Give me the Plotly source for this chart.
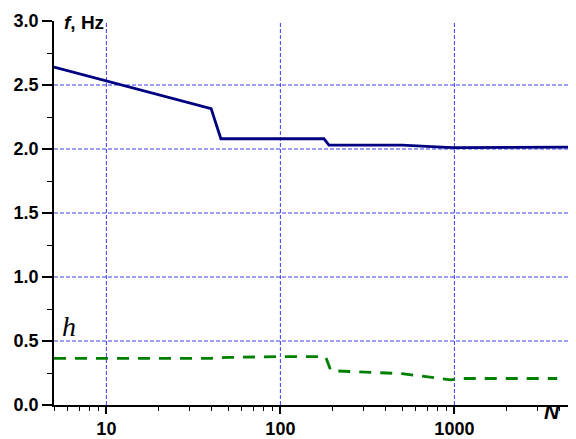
import plotly.graph_objects as go

# f, Hz (solid navy line)
f_N = [5, 40, 45.5, 178, 190, 500, 900, 1000, 4600]
f_val = [2.64, 2.315, 2.08, 2.08, 2.03, 2.03, 2.012, 2.01, 2.015]

# h (dashed green line)
h_N = [5, 40, 50, 100, 182, 195, 500, 950, 1100, 3900]
h_val = [0.365, 0.365, 0.372, 0.378, 0.377, 0.268, 0.245, 0.197, 0.207, 0.207]

y_ticks = [0.0, 0.5, 1.0, 1.5, 2.0, 2.5, 3.0]
y_tick_text = ["0.0", "0.5", "1.0", "1.5", "2.0", "2.5", "3.0"]
x_ticks = [10, 100, 1000]
x_tick_text = ["10", "100", "1000"]
grid_y = [0.5, 1.0, 1.5, 2.0, 2.5]
grid_x = [10, 100, 1000]

fig = go.Figure()
fig.add_trace(go.Scatter(x=f_N, y=f_val, mode="lines",
                         line=dict(color="#000080", width=2.8), showlegend=False))
fig.add_trace(go.Scatter(x=h_N, y=h_val, mode="lines",
                         line=dict(color="#008000", width=2.8, dash="12px,9px"),
                         showlegend=False))

shapes = []
for gy in grid_y:
    shapes.append(dict(type="line", xref="paper", yref="y", x0=0, x1=1, y0=gy, y1=gy,
                       line=dict(color="#3a3af5", width=1, dash="4px,2px"), layer="below"))
for gx in grid_x:
    shapes.append(dict(type="line", xref="x", yref="paper", x0=gx, x1=gx, y0=0, y1=1,
                       line=dict(color="#3a3af5", width=1, dash="4px,2px"), layer="below"))

font_tick = dict(family="Liberation Sans, Arial", size=18, color="black", weight="bold")

# body has an 8px default margin: compensate
fig.update_layout(
    width=568, height=431,
    margin=dict(l=46, r=0, t=13, b=31),
    plot_bgcolor="white", paper_bgcolor="white",
    shapes=shapes,
    xaxis=dict(type="log", range=[0.69897, 3.69897], showgrid=False, zeroline=False,
               showline=True, linecolor="black", linewidth=1.5,
               tickmode="array", tickvals=x_ticks, ticktext=x_tick_text,
               ticks="outside", ticklen=7, tickwidth=1.5, tickcolor="black",
               tickfont=font_tick,
               minor=dict(ticks="outside", ticklen=4, tickwidth=1.2, tickcolor="black",
                          dtick="D1", showgrid=False)),
    yaxis=dict(range=[0, 3.0], showgrid=False, zeroline=False,
               showline=True, linecolor="black", linewidth=1.5,
               tickmode="array", tickvals=y_ticks, ticktext=y_tick_text,
               ticks="outside", ticklen=10, tickwidth=1.5, tickcolor="black",
               tickfont=font_tick,
               minor=dict(ticks="outside", ticklen=5, tickwidth=1.2, tickcolor="black",
                          dtick=0.25, showgrid=False)),
    annotations=[
        dict(text="<b><i>f</i>, Hz</b>", xref="paper", yref="paper", x=0.016, y=0.996,
             xanchor="left", yanchor="middle", showarrow=False,
             font=dict(family="Liberation Sans, Arial", size=19, color="black")),
        dict(text="<i>h</i>", xref="paper", yref="paper", x=0.029, y=0.205,
             xanchor="center", yanchor="middle", showarrow=False,
             font=dict(family="Liberation Serif, Times New Roman", size=28, color="black")),
        dict(text="<b><i>N</i></b>", xref="paper", yref="paper", x=0.954, y=-0.016,
             xanchor="center", yanchor="middle", showarrow=False,
             font=dict(family="Liberation Sans, Arial", size=21, color="black")),
    ],
)

fig.write_html("out.html")
